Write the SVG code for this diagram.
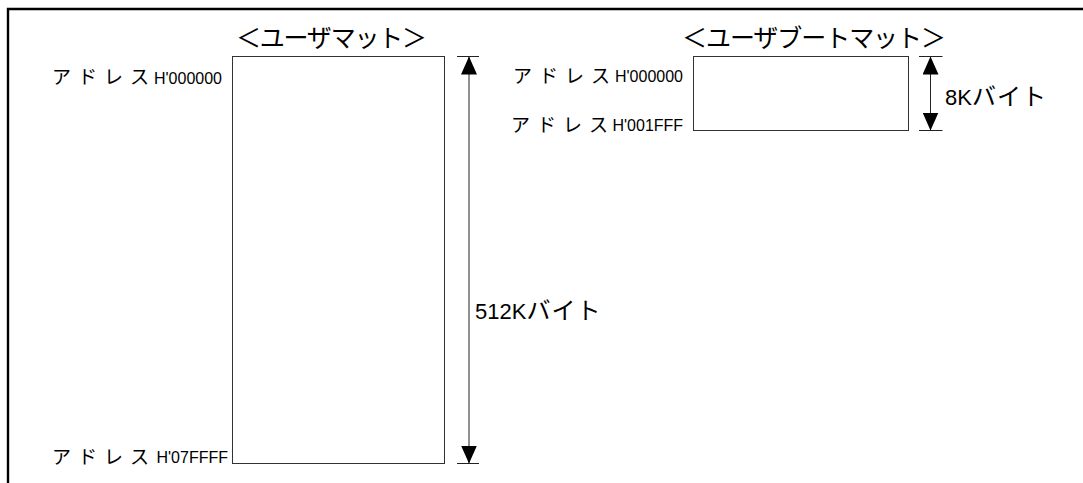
<svg xmlns="http://www.w3.org/2000/svg" width="1083" height="483" viewBox="0 0 1083 483">
<style>
text{font-family:"Liberation Sans","Noto Sans CJK JP",sans-serif;fill:#000}
.t{font-size:25px}
.l{font-size:16px}
.k{font-size:19px;letter-spacing:7px}
.d{font-size:22px}
.dk{font-size:24px;letter-spacing:1px}
.box{fill:#fff;stroke:#333;stroke-width:1}
.dim{stroke:#222;stroke-width:1;fill:none}
.frame{stroke:#000;stroke-width:2.4;fill:none}
</style>
<defs>
<marker id="ah" viewBox="0 0 18 16" refX="18" refY="8" markerWidth="18" markerHeight="16" markerUnits="userSpaceOnUse" orient="auto-start-reverse">
<path d="M0,0 L18,8 L0,16 z" fill="#000"/>
</marker>
</defs>
<rect width="1083" height="483" fill="#fff"/>
<path class="frame" d="M8,483 V9 H1083"/>
<g id="user-mat">
<text class="t" x="236" y="47" textLength="191" lengthAdjust="spacing">＜ユーザマット＞</text>
<rect class="box" x="232.5" y="56.5" width="212" height="407"/>
<text class="k" x="52" y="84">アドレス</text>
<text class="l" x="154" y="83.5">H'000000</text>
<text class="k" x="52" y="463.5">アドレス</text>
<text class="l" x="156.5" y="463">H'07FFFF</text>
</g>
<g id="user-boot-mat">
<text class="t" x="682" y="47" textLength="264" lengthAdjust="spacing">＜ユーザブートマット＞</text>
<rect class="box" x="693.5" y="56.5" width="215" height="74"/>
<text class="k" x="513" y="82.5">アドレス</text>
<text class="l" x="615" y="82">H'000000</text>
<text class="k" x="511" y="131.5">アドレス</text>
<text class="l" x="612.5" y="131">H'001FFF</text>
</g>
<g id="connectors">
<path class="dim" d="M457,56.5 H479 M457,463.5 H479"/>
<line class="dim" x1="469" y1="56.5" x2="469" y2="463.5" marker-start="url(#ah)" marker-end="url(#ah)"/>
<path class="dim" d="M919,56.5 H942.5 M919,130.5 H942.5"/>
<line class="dim" x1="930.5" y1="56.5" x2="930.5" y2="130.5" marker-start="url(#ah)" marker-end="url(#ah)"/>
</g>
<g id="dim-labels">
<text class="d" x="475" y="319">512K<tspan class="dk">バイト</tspan></text>
<text class="d" x="945" y="105">8K<tspan class="dk">バイト</tspan></text>
</g>
</svg>
